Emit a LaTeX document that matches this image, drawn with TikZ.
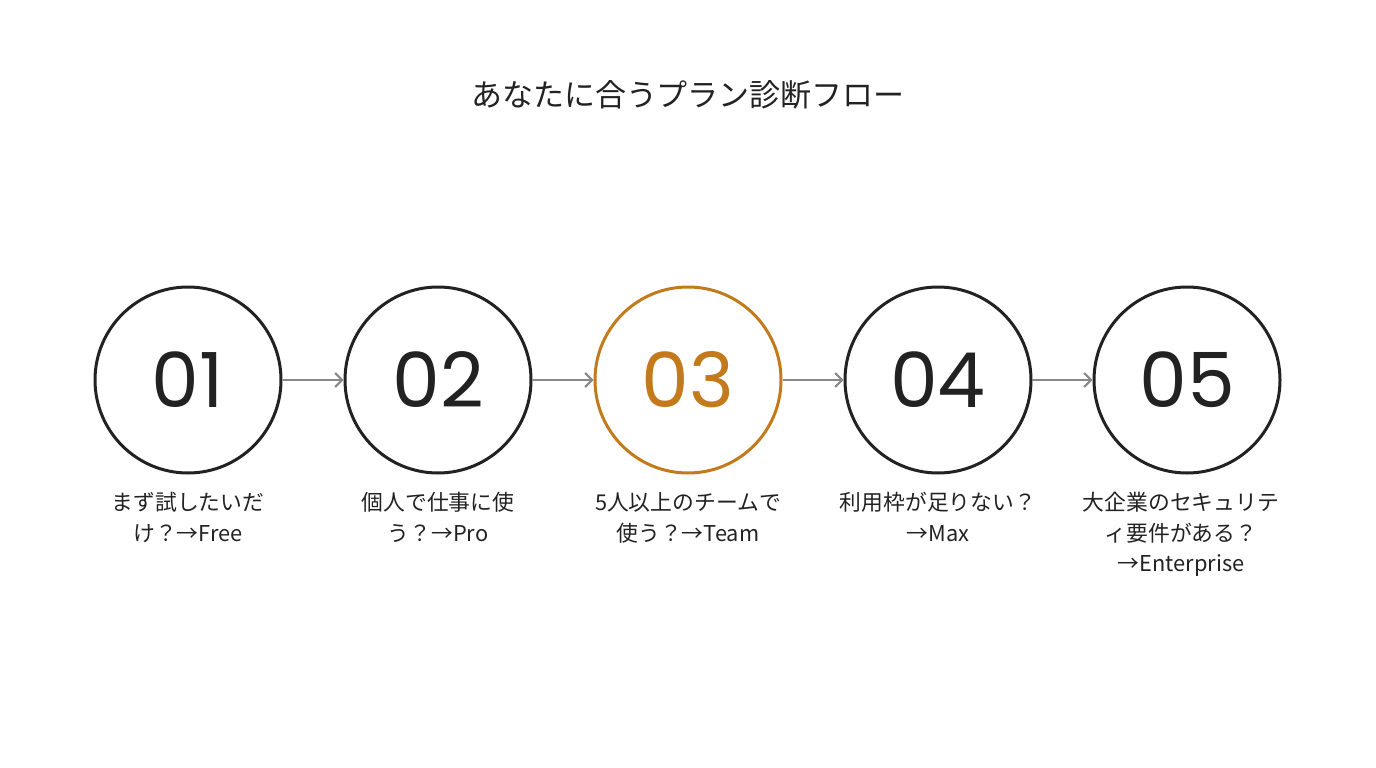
\documentclass[tikz,border=0pt]{standalone}
\usepackage{fontspec}
\usetikzlibrary{arrows.meta}
\newfontfamily\jpfont{Noto Sans CJK JP}
\newfontfamily\numfont{Poppins}
\definecolor{ink}{HTML}{222222}
\definecolor{accent}{HTML}{C27A1C}
\definecolor{arrowgray}{HTML}{888888}
\tikzset{
  stepcircle/.style={circle, draw=ink, line width=3pt, minimum size=186pt, inner sep=0pt, text=ink, font=\numfont\fontsize{76}{76}\selectfont},
  accentcircle/.style={stepcircle, draw=accent, text=accent},
  steplabel/.style={align=center, text=ink, font=\jpfont\fontsize{21.8}{30.5}\selectfont, anchor=north},
  flowarrow/.style={draw=arrowgray, line width=2pt, -{Straight Barb[length=7pt,width=14pt,line width=2pt]}}
}
\begin{document}
\begin{tikzpicture}[x=1pt,y=-1pt]
\useasboundingbox (0,0) rectangle (1376,768);
\node[text=ink, font=\jpfont\fontsize{31}{31}\selectfont] (title) at (688,95) {あなたに合うプラン診断フロー};
\node[stepcircle] (c1) at (188,380) {01};
\node[stepcircle] (c2) at (438,380) {02};
\node[accentcircle] (c3) at (688,380) {03};
\node[stepcircle] (c4) at (938,380) {04};
\node[stepcircle] (c5) at (1187,380) {05};
\draw[flowarrow] (c1) -- (c2);
\draw[flowarrow] (c2) -- (c3);
\draw[flowarrow] (c3) -- (c4);
\draw[flowarrow] (c4) -- (c5);
\node[steplabel] (l1) at (188,489) {まず試したいだ\\け？→Free};
\node[steplabel] (l2) at (438,489) {個人で仕事に使\\う？→Pro};
\node[steplabel] (l3) at (688,489) {5人以上のチームで\\使う？→Team};
\node[steplabel] (l4) at (938,489) {利用枠が足りない？\\→Max};
\node[steplabel] (l5) at (1181,489) {大企業のセキュリテ\\ィ要件がある？\\→Enterprise};
\end{tikzpicture}
\end{document}
